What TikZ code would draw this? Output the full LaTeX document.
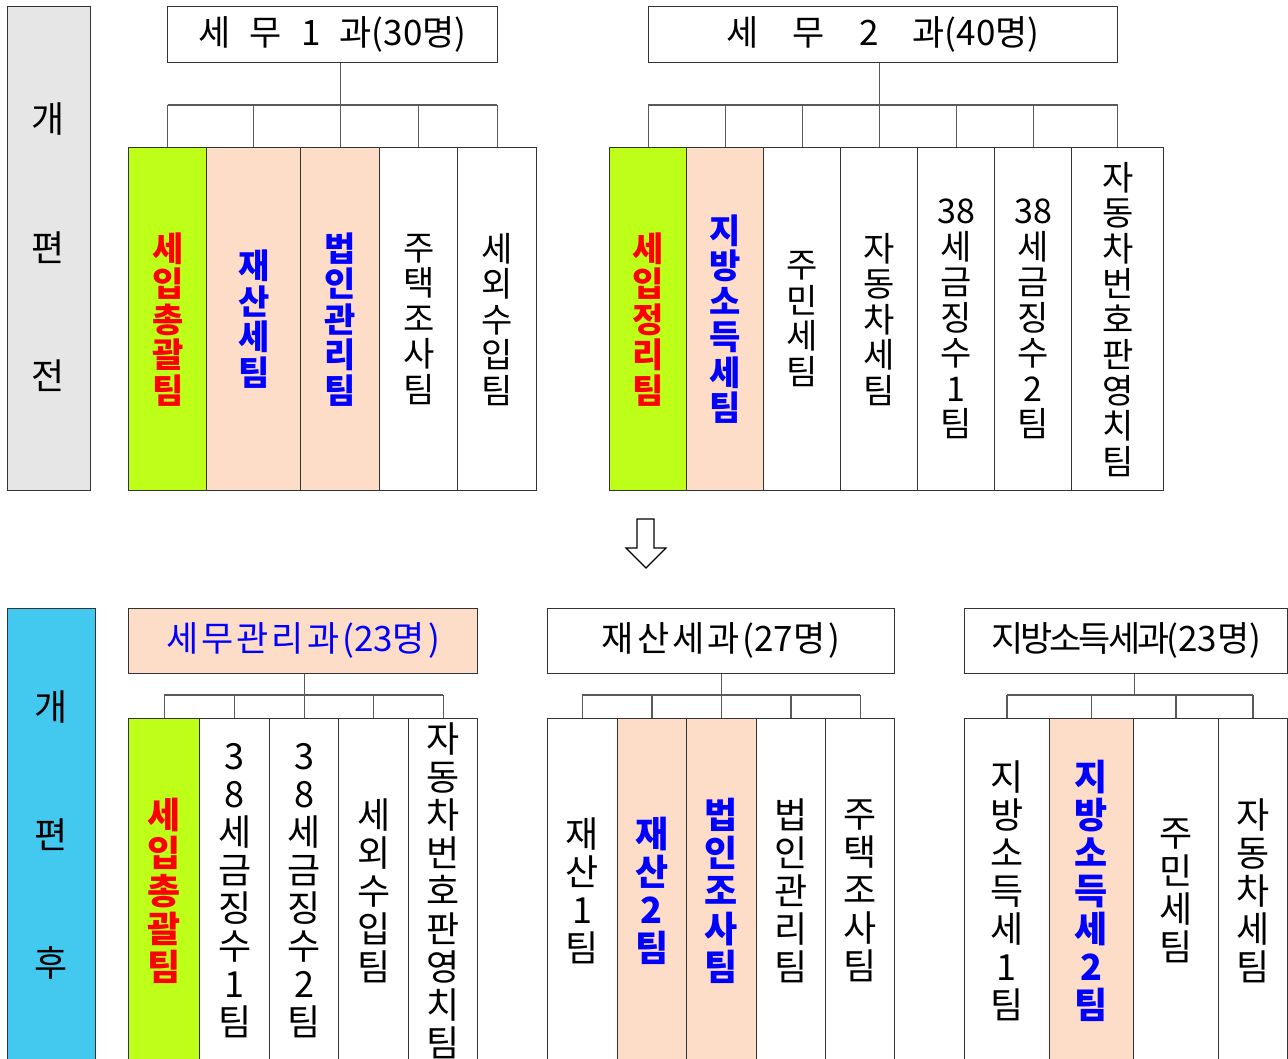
\documentclass[tikz,border=0pt]{standalone}
\usepackage{fontspec}
\setmainfont{Noto Sans CJK KR}
\definecolor{cGray}{RGB}{230,230,230}
\definecolor{cCyan}{RGB}{67,200,240}
\definecolor{cLime}{RGB}{190,255,26}
\definecolor{cPeach}{RGB}{253,221,200}
\newcommand\hs{\hspace{3pt}}
\newcommand\negk{\kern-3pt }
\tikzset{
  box/.style={draw=black!80, line width=1.3pt, inner sep=0pt, anchor=north west, align=center},
  hdr/.style={box, font=\fontsize{35}{38}\selectfont},
  tA/.style={box, minimum height=343pt, font=\fontsize{34}{35.5}\selectfont},
  tAb/.style={box, minimum height=343pt, font=\fontsize{34}{35.5}\selectfont\bfseries},
  tB/.style={box, minimum height=344.5pt, font=\fontsize{36}{38}\selectfont},
  tBb/.style={box, minimum height=344.5pt, font=\fontsize{36}{38}\selectfont\bfseries},
  lime/.style={fill=cLime, text=red},
  peach/.style={fill=cPeach, text=blue},
  conn/.style={draw=black!65, line width=1.3pt},
  lab/.style={font=\fontsize{36}{38}\selectfont, inner sep=0pt},
}
\begin{document}
\begin{tikzpicture}[x=1pt,y=-1pt]
\useasboundingbox (0,0) rectangle (1288,1059);
\fill[white] (0,0) rectangle (1288,1059);

% ---------- before ----------
\node[box, fill=cGray, minimum width=83pt, minimum height=484pt] (L1) at (7,6) {};
\node[lab] (L1a) at (48.5,119) {개};
\node[lab] (L1b) at (48.5,248) {편};
\node[lab] (L1c) at (48.5,376) {전};

\node[hdr, minimum width=330pt, minimum height=56pt] (h1) at (167,6)
  {세\hspace{19pt}무\hspace{19pt}1\hspace{19pt}과(30명)};
\node[tAb, lime,  minimum width=78pt] (a1) at (128,147) {세\\입\\총\\괄\\팀};
\node[tAb, peach, minimum width=94pt] (a2) at (206,147) {재\\산\\세\\팀};
\node[tAb, peach, minimum width=79pt] (a3) at (300,147) {법\\인\\관\\리\\팀};
\node[tA, minimum width=78pt] (a4) at (379,147) {주\\택\\조\\사\\팀};
\node[tA, minimum width=79pt] (a5) at (457,147) {세\\외\\수\\입\\팀};
\coordinate (busA) at (0,105);
\draw[conn] (h1.south -| a3.north) -- (a3.north |- busA);
\draw[conn] (a1.north |- busA) -- (a5.north |- busA);
\foreach \n in {a1,a2,a3,a4,a5} \draw[conn] (\n.north |- busA) -- (\n.north);

\node[hdr, minimum width=469pt, minimum height=56pt] (h2) at (648,6)
  {세\hspace{34pt}무\hspace{34pt}2\hspace{34pt}과(40명)};
\node[tAb, lime,  minimum width=77pt] (b1) at (609,147) {세\\입\\정\\리\\팀};
\node[tAb, peach, minimum width=77pt] (b2) at (686,147) {지\\방\\소\\득\\세\\팀};
\node[tA, minimum width=77pt] (b3) at (763,147) {주\\민\\세\\팀};
\node[tA, minimum width=77pt] (b4) at (840,147) {자\\동\\차\\세\\팀};
\node[tA, minimum width=77pt] (b5) at (917,147) {38\\세\\금\\징\\수\\1\\팀};
\node[tA, minimum width=77pt] (b6) at (994,147) {38\\세\\금\\징\\수\\2\\팀};
\node[tA, minimum width=92pt] (b7) at (1071,147) {자\\동\\차\\번\\호\\판\\영\\치\\팀};
\coordinate (busB) at (0,105);
\draw[conn] (h2.south -| b4.north) -- (b4.north |- busB);
\draw[conn] (b1.north |- busB) -- (b7.north |- busB);
\foreach \n in {b1,b2,b3,b4,b5,b6,b7} \draw[conn] (\n.north |- busB) -- (\n.north);

% ---------- arrow ----------
\draw[line width=1.2pt, fill=white, line join=miter]
  (637,519) -- (654,519) -- (654,548) -- (666,548) -- (646,568) -- (626,548) -- (637,548) -- cycle;

% ---------- after ----------
\node[box, fill=cCyan, minimum width=88pt, minimum height=455pt] (L2) at (7,607.5) {};
\node[lab] (L2a) at (51,707) {개};
\node[lab] (L2b) at (51,835) {편};
\node[lab] (L2c) at (51,963) {후};

\node[hdr, peach, minimum width=349pt, minimum height=65pt] (h3) at (128,607.5)
  {세\hs 무\hs 관\hs 리\hs 과\hs (23명\hs )};
\node[tBb, lime, minimum width=71pt] (c1) at (128,718) {세\\입\\총\\괄\\팀};
\node[tB, minimum width=70pt] (c2) at (199,718) {3\\8\\세\\금\\징\\수\\1\\팀};
\node[tB, minimum width=69pt] (c3) at (269,718) {3\\8\\세\\금\\징\\수\\2\\팀};
\node[tB, minimum width=70pt] (c4) at (338,718) {세\\외\\수\\입\\팀};
\node[tB, minimum width=69pt] (c5) at (408,718) {자\\동\\차\\번\\호\\판\\영\\치\\팀};
\coordinate (busC) at (0,695);
\draw[conn] (h3.south -| c3.north) -- (c3.north |- busC);
\draw[conn] (c1.north |- busC) -- (c5.north |- busC);
\foreach \n in {c1,c2,c3,c4,c5} \draw[conn] (\n.north |- busC) -- (\n.north);

\node[hdr, minimum width=347pt, minimum height=65pt] (h4) at (547,607.5)
  {재\hs 산\hs 세\hs 과\hs (27명\hs )};
\node[tB, minimum width=69.5pt] (d1) at (547,718) {재\\산\\1\\팀};
\node[tBb, peach, minimum width=69.5pt] (d2) at (616.5,718) {재\\산\\2\\팀};
\node[tBb, peach, minimum width=69.5pt] (d3) at (686,718) {법\\인\\조\\사\\팀};
\node[tB, minimum width=69.5pt] (d4) at (755.5,718) {법\\인\\관\\리\\팀};
\node[tB, minimum width=69pt] (d5) at (825,718) {주\\택\\조\\사\\팀};
\coordinate (busD) at (0,695);
\draw[conn] (h4.south -| d3.north) -- (d3.north |- busD);
\draw[conn] (d1.north |- busD) -- (d5.north |- busD);
\foreach \n in {d1,d2,d3,d4,d5} \draw[conn] (\n.north |- busD) -- (\n.north);

\node[hdr, minimum width=323pt, minimum height=65pt] (h5) at (964,607.5)
  {지\negk 방\negk 소\negk 득\negk 세\negk 과\negk (23명)};
\node[tB, minimum width=84.5pt] (e1) at (964,718) {지\\방\\소\\득\\세\\1\\팀};
\node[tBb, peach, minimum width=84.5pt] (e2) at (1048.5,718) {지\\방\\소\\득\\세\\2\\팀};
\node[tB, minimum width=84.5pt] (e3) at (1133,718) {주\\민\\세\\팀};
\node[tB, minimum width=69.5pt] (e4) at (1217.5,718) {자\\동\\차\\세\\팀};
\coordinate (busE) at (0,695);
\draw[conn] (h5.south -| e2.north east) -- (e2.north east |- busE);
\draw[conn] (e1.north |- busE) -- (e4.north |- busE);
\foreach \n in {e1,e2,e3,e4} \draw[conn] (\n.north |- busE) -- (\n.north);
\end{tikzpicture}
\end{document}
